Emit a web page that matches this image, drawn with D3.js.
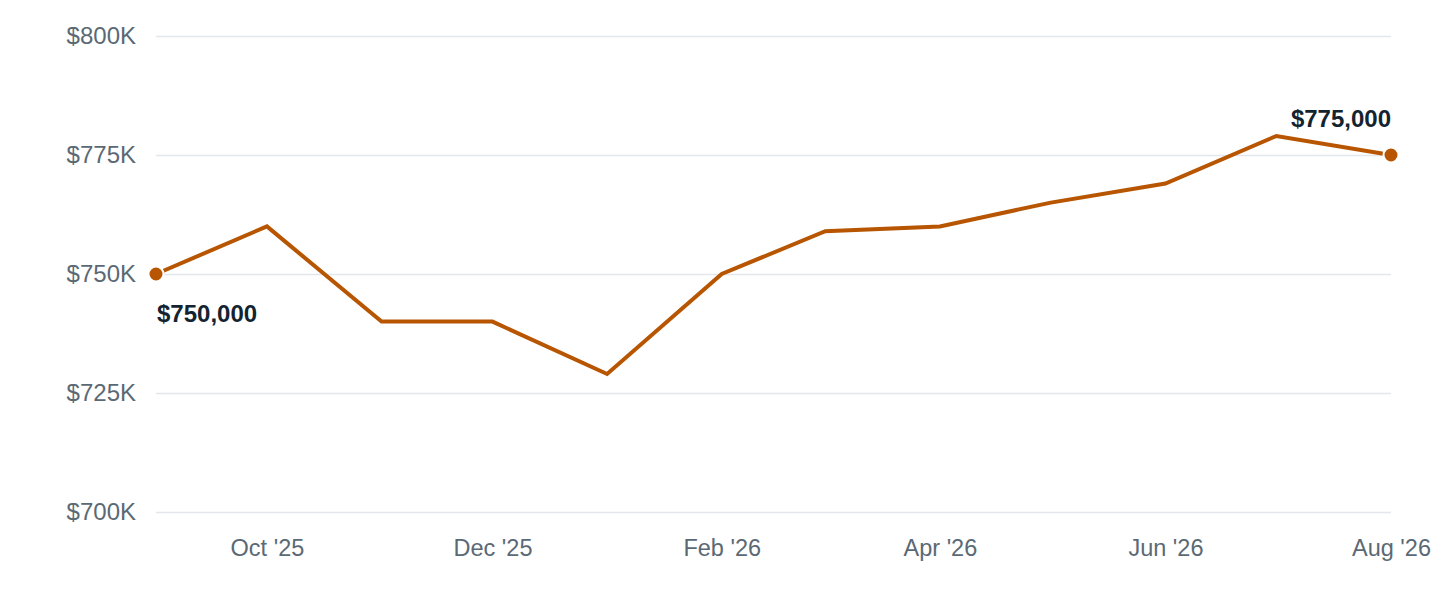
<!DOCTYPE html>
<html>
<head>
<meta charset="utf-8">
<script src="https://cdn.jsdelivr.net/npm/d3@7"></script>
<style>
  body { margin: 0; background: #fff; }
  svg text { font-family: "Liberation Sans", Arial, Helvetica, sans-serif; }
</style>
</head>
<body>
<div class="chart"></div>
<script>
// monthly values
var months = ["2025-09", "2025-10", "2025-11", "2025-12", "2026-01", "2026-02",
    "2026-03", "2026-04", "2026-05", "2026-06", "2026-07", "2026-08"]
var prices = [750000, 760000, 740000, 740000, 729000, 750000,
    759000, 760000, 765000, 769000, 779000, 775000]
var yTicks = [700000, 725000, 750000, 775000, 800000]
var xTickMonths = ["2025-10", "2025-12", "2026-02", "2026-04", "2026-06", "2026-08"]

var parse = d3.timeParse("%Y-%m")
var data = months.map((m, i) => ({ date: parse(m), value: prices[i] }))

var width = 1440, height = 600
var m = { top: 36, right: 49, bottom: 88, left: 156 }

var svg = d3.select('.chart')
    .append('svg')
    .attr('width', width)
    .attr('height', height)

var x = d3.scaleTime()
    .domain(d3.extent(data, d => d.date))
    .range([m.left, width - m.right])

var y = d3.scaleLinear()
    .domain([700000, 800000])
    .range([height - m.bottom, m.top])

// gridlines + y labels
var yAxis = svg.append('g')
    .attr('transform', 'translate(' + m.left + ',0)')
    .call(d3.axisLeft(y)
        .tickValues(yTicks)
        .tickSize(-(width - m.left - m.right))
        .tickPadding(20)
        .tickFormat(d => '$' + d / 1000 + 'K'))
yAxis.select('.domain').remove()
yAxis.selectAll('line').attr('stroke', '#e3e7ec').attr('stroke-width', 1.5)
yAxis.selectAll('text')
    .attr('fill', '#5b6975')
    .attr('font-size', 24)

// x labels
var xAxis = svg.append('g')
    .attr('transform', 'translate(0,' + (height - m.bottom) + ')')
    .call(d3.axisBottom(x)
        .tickValues(xTickMonths.map(parse))
        .tickSize(0)
        .tickPadding(27)
        .tickFormat(d3.timeFormat("%b '%y")))
xAxis.select('.domain').remove()
xAxis.selectAll('text')
    .attr('fill', '#5b6975')
    .attr('font-size', 23.5)

var color = '#b75500'

var line = d3.line()
    .x(d => x(d.date))
    .y(d => y(d.value))

svg.append('path')
    .datum(data)
    .attr('fill', 'none')
    .attr('stroke', color)
    .attr('stroke-width', 4)
    .attr('stroke-linejoin', 'miter')
    .attr('d', line)

var first = data[0], last = data[data.length - 1]

svg.selectAll('.end-dot')
    .data([first, last])
    .enter()
    .append('circle')
    .attr('class', 'end-dot')
    .attr('cx', d => x(d.date))
    .attr('cy', d => y(d.value))
    .attr('r', 7.5)
    .attr('fill', color)
    .attr('stroke', '#fff')
    .attr('stroke-width', 2)

var fmt = d3.format('$,')

svg.append('text')
    .attr('x', x(first.date) + 1)
    .attr('y', y(first.value) + 48)
    .attr('font-size', 24)
    .attr('font-weight', 'bold')
    .attr('fill', '#13242f')
    .text(fmt(first.value))

svg.append('text')
    .attr('x', x(last.date))
    .attr('y', y(last.value) - 28)
    .attr('text-anchor', 'end')
    .attr('font-size', 24)
    .attr('font-weight', 'bold')
    .attr('fill', '#13242f')
    .text(fmt(last.value))
</script>
</body>
</html>
